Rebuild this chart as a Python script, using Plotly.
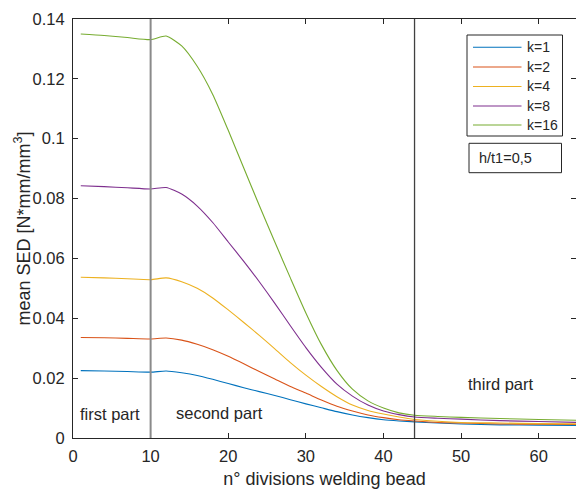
import plotly.graph_objects as go

x_div = [1, 4, 7, 10, 12, 14, 16, 18, 20, 22, 24, 26, 28, 30, 32, 34, 36, 38, 40, 42, 44, 47, 50, 55, 60, 65]

sed_k1 = [0.0225, 0.0224, 0.0222, 0.0220, 0.0224, 0.0218, 0.0209, 0.0196, 0.0182, 0.0168, 0.0155, 0.0142, 0.0128,
          0.0114, 0.0101, 0.0088, 0.0077, 0.0068, 0.0061, 0.0057, 0.0054, 0.0050, 0.0047, 0.0044, 0.0043, 0.0042]
sed_k2 = [0.0336, 0.0335, 0.0333, 0.0331, 0.0334, 0.0327, 0.0313, 0.0295, 0.0273, 0.0248, 0.0222, 0.0197, 0.0172,
          0.0150, 0.0127, 0.0106, 0.0090, 0.0077, 0.0068, 0.0061, 0.0057, 0.0052, 0.0050, 0.0047, 0.0046, 0.0045]
sed_k4 = [0.0537, 0.0535, 0.0532, 0.0529, 0.0535, 0.0522, 0.0500, 0.0468, 0.0428, 0.0386, 0.0343, 0.0298, 0.0252,
          0.0210, 0.0172, 0.0138, 0.0110, 0.0092, 0.0080, 0.0070, 0.0062, 0.0056, 0.0052, 0.0050, 0.0048, 0.0047]
sed_k8 = [0.0843, 0.0840, 0.0836, 0.0832, 0.0837, 0.0815, 0.0775, 0.0720, 0.0655, 0.0590, 0.0522, 0.0450, 0.0375,
          0.0302, 0.0236, 0.0180, 0.0140, 0.0110, 0.0090, 0.0078, 0.0070, 0.0066, 0.0063, 0.0058, 0.0055, 0.0052]
sed_k16 = [0.1350, 0.1345, 0.1338, 0.1331, 0.1343, 0.1310, 0.1242, 0.1148, 0.1028, 0.0902, 0.0777, 0.0655, 0.0535,
           0.0418, 0.0312, 0.0226, 0.0163, 0.0124, 0.0100, 0.0084, 0.0076, 0.0072, 0.0069, 0.0065, 0.0062, 0.0059]

series_names = ["k=1", "k=2", "k=4", "k=8", "k=16"]
series_vals = [sed_k1, sed_k2, sed_k4, sed_k8, sed_k16]
colors = ["#0072BD", "#D95319", "#EDB120", "#7E2F8E", "#77AC30"]

part_lines = [10, 44]
part_labels = ["first part", "second part", "third part"]
part_label_x = [4.8, 18.9, 55.2]
part_label_y = [0.0080, 0.0085, 0.0181]

yticks = [0, 0.02, 0.04, 0.06, 0.08, 0.1, 0.12, 0.14]
yticktext = ["0", "0.02", "0.04", "0.06", "0.08", "0.1", "0.12", "0.14"]
xticks = [0, 10, 20, 30, 40, 50, 60]

FONT = "Liberation Sans, Arial, sans-serif"
AX = "#262626"

W, H = 576, 490
ML, MR, MT, MB = 73, 0, 19, 52
PW, PH = W - ML - MR, H - MT - MB


def px(xp):
    return (xp - ML) / PW


def py(yp):
    return (H - MB - yp) / PH


fig = go.Figure()
for name, vals, c in zip(series_names, series_vals, colors):
    fig.add_trace(go.Scatter(x=x_div, y=vals, mode="lines", name=name, showlegend=False,
                             line=dict(color=c, width=1.1, shape="spline", smoothing=0.6)))

fig.add_shape(type="line", x0=part_lines[0], x1=part_lines[0], y0=0, y1=1, xref="x", yref="paper",
              line=dict(color="#8a8a8a", width=2))
fig.add_shape(type="line", x0=part_lines[1], x1=part_lines[1], y0=0, y1=1, xref="x", yref="paper",
              line=dict(color="#404040", width=1.3))

for t, xx, yy in zip(part_labels, part_label_x, part_label_y):
    fig.add_annotation(x=xx, y=yy, text=t, showarrow=False, xref="x", yref="y",
                       font=dict(family=FONT, size=16.5, color=AX))

# legend box (manual, MATLAB style)
fig.add_shape(type="rect", xref="paper", yref="paper", x0=px(467), x1=px(562.5), y0=py(136), y1=py(35),
              line=dict(color=AX, width=1), fillcolor="white", layer="above")
leg_y = [47.3, 67, 86.5, 106, 125]
for name, c, ly in zip(series_names, colors, leg_y):
    fig.add_shape(type="line", xref="paper", yref="paper", x0=px(473), x1=px(521.5), y0=py(ly), y1=py(ly),
                  line=dict(color=c, width=1.1), layer="above")
    fig.add_annotation(x=px(525), y=py(ly), xref="paper", yref="paper", xanchor="left", yanchor="middle",
                       text=name, showarrow=False, font=dict(family=FONT, size=14, color=AX))

# h/t1 box
fig.add_shape(type="rect", xref="paper", yref="paper", x0=px(469), x1=px(561.5), y0=py(172.7), y1=py(143.3),
              line=dict(color=AX, width=1), fillcolor="white", layer="above")
fig.add_annotation(x=px(476.5), y=py(158.3), xref="paper", yref="paper", xanchor="left", yanchor="middle",
                   text="h/t1=0,5", showarrow=False, font=dict(family=FONT, size=14.5, color=AX))

# y-axis title
fig.add_annotation(x=px(23), y=py(228.5), xref="paper", yref="paper", xanchor="center", yanchor="middle",
                   text="mean SED [N*mm/mm<sup>3</sup>]", textangle=-90, showarrow=False,
                   font=dict(family=FONT, size=18, color=AX))

fig.update_layout(
    width=W, height=H,
    margin=dict(l=ML, r=MR, t=MT, b=MB),
    paper_bgcolor="white", plot_bgcolor="white",
    font=dict(family=FONT, size=16.5, color=AX),
    showlegend=False,
    xaxis=dict(range=[0, 64.8], tickvals=xticks, ticks="inside", ticklen=5, tickcolor=AX,
               showline=True, linecolor=AX, linewidth=1, mirror="ticks", showgrid=False, zeroline=False,
               automargin=False,
               title=dict(text="n° divisions welding bead", font=dict(size=18), standoff=8),
               tickfont=dict(size=16.5), ticklabelstandoff=3),
    yaxis=dict(range=[0, 0.14], tickvals=yticks, ticktext=yticktext, ticks="inside", ticklen=5, tickcolor=AX,
               showline=True, linecolor=AX, linewidth=1, mirror="ticks", showgrid=False, zeroline=False,
               automargin=False,
               tickfont=dict(size=16.5), ticklabelstandoff=4),
)

fig.write_html("out.html", config={"displayModeBar": False},
               post_script="document.body.style.margin='0';document.body.style.padding='0';")
